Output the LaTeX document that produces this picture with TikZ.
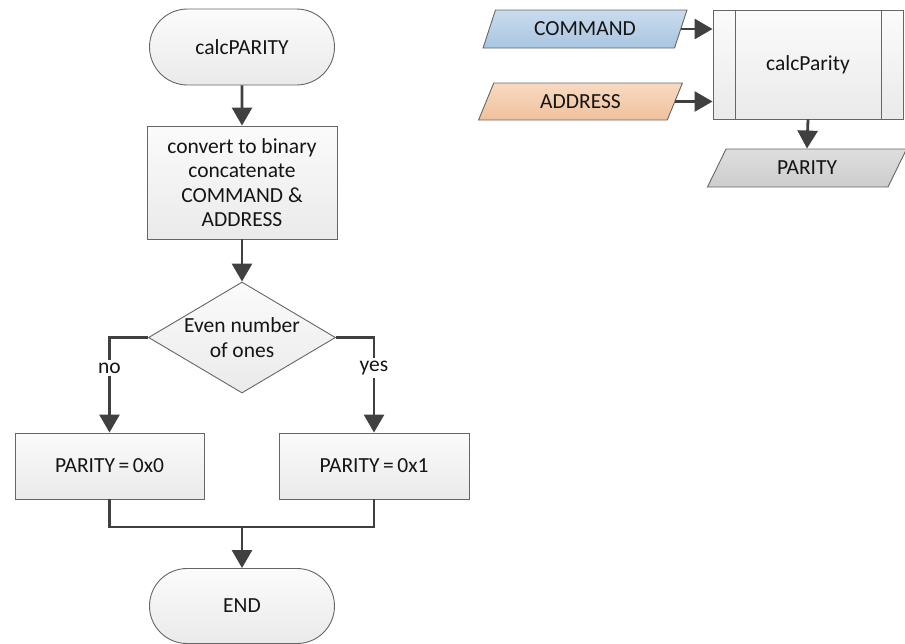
\documentclass[tikz,border=0pt]{standalone}
\usepackage{fontspec}
\setmainfont{Carlito}
\usetikzlibrary{arrows.meta,shapes.geometric,shapes.misc}

\definecolor{edge}{HTML}{666666}
\definecolor{flow}{HTML}{404040}
\definecolor{ink}{HTML}{151515}
\definecolor{boxtop}{HTML}{FBFBFB}
\definecolor{boxbot}{HTML}{EAEAEA}
\definecolor{cmdtop}{HTML}{C9DCEE}
\definecolor{cmdbot}{HTML}{A9C5E0}
\definecolor{adrtop}{HTML}{F8DAC1}
\definecolor{adrbot}{HTML}{EFC19C}
\definecolor{partop}{HTML}{DEDEDE}
\definecolor{parbot}{HTML}{CDCDCD}

\tikzset{
  base/.style={draw=edge, line width=0.9pt, text=ink, align=center, inner sep=2pt,
    font=\fontsize{21.5}{24.5}\selectfont},
  terminal/.style={base, rounded rectangle, top color=boxtop, bottom color=boxbot},
  procbox/.style={base, rectangle, top color=boxtop, bottom color=boxbot},
  decision/.style={base, diamond, aspect=1.68, inner sep=0pt, top color=boxtop, bottom color=boxbot},
  iobox/.style={base, trapezium, trapezium left angle=63.4, trapezium right angle=116.6,
    trapezium stretches=true, inner sep=0pt},
  flowline/.style={draw=flow, line width=2.8pt},
  flowarrow/.style={flowline, -{Triangle[width=20pt,length=18pt]}},
  branchlabel/.style={fill=white, text=ink, inner sep=3pt, font=\fontsize{21.5}{24.5}\selectfont},
}

\begin{document}
\begin{tikzpicture}[x=1pt, y=-1pt]
  \useasboundingbox (0,0) rectangle (905,643);

  % main flow
  \node[terminal, minimum width=189pt, minimum height=76pt] (start) at (242,47) {calcPARITY};
  \node[procbox, minimum width=190pt, minimum height=113pt] (conv) at (242,182.5)
    {convert to binary\\concatenate\\COMMAND \&\\ADDRESS};
  \node[decision, minimum width=187pt, minimum height=111pt] (even) at (242,337.5)
    {Even number\\of ones};
  \node[procbox, minimum width=189pt, minimum height=66pt] (p0) at (109.5,466) {PARITY\,=\,0x0};
  \node[procbox, minimum width=190pt, minimum height=66pt] (p1) at (374,466) {PARITY\,=\,0x1};
  \node[terminal, minimum width=189pt, minimum height=75pt] (fin) at (242,606) {END};
  \coordinate (join) at (242,527);

  \draw[flowarrow] (start) -- (conv);
  \draw[flowarrow] (conv) -- (even);
  \draw[flowarrow] (even.west) -| (p0.north);
  \draw[flowarrow] (even.east) -| (p1.north);
  \node[branchlabel] (lno) at (109.5,368) {no};
  \node[branchlabel] (lyes) at (374,368) {yes};
  \draw[flowline] (p0.south) |- (join) -| (p1.south);
  \draw[flowarrow] (join) -- (fin.north);

  % subroutine block with its inputs and output
  \node[procbox, minimum width=190pt, minimum height=109pt] (sub) at (808,64.5) {calcParity};
  \draw[draw=edge, line width=0.9pt] ([xshift=23pt]sub.north west) -- ([xshift=23pt]sub.south west);
  \draw[draw=edge, line width=0.9pt] ([xshift=-22pt]sub.north east) -- ([xshift=-22pt]sub.south east);

  \node[iobox, top color=cmdtop, bottom color=cmdbot, minimum width=204pt, minimum height=38pt]
    (cmd) at (585,29) {COMMAND};
  \node[iobox, top color=adrtop, bottom color=adrbot, minimum width=205pt, minimum height=37pt]
    (adr) at (580.5,101.5) {ADDRESS};
  \node[iobox, top color=partop, bottom color=parbot, minimum width=200pt, minimum height=38pt]
    (par) at (807,168) {PARITY};

  \draw[flowarrow] (cmd.east) -- (cmd.east -| sub.west);
  \draw[flowarrow] (adr.east) -- (adr.east -| sub.west);
  \draw[flowarrow] (sub.south) -- (par.north);
\end{tikzpicture}
\end{document}
